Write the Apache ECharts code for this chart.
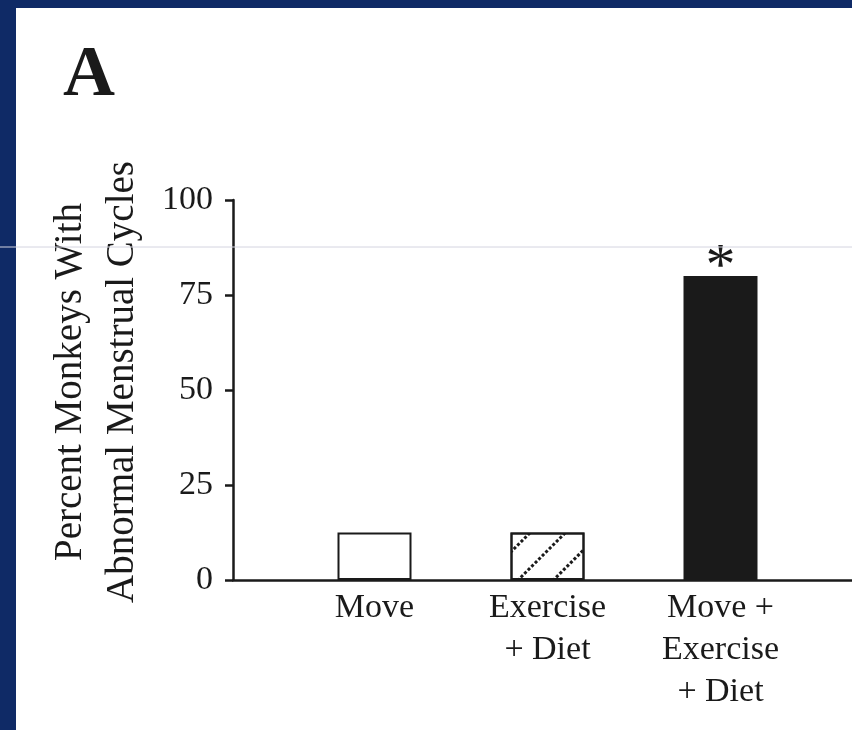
<!DOCTYPE html>
<html>
<head>
<meta charset="utf-8">
<script src="https://cdn.jsdelivr.net/npm/echarts@6/dist/echarts.min.js"></script>
<style>
html,body{margin:0;padding:0;background:#0f2a66;}
#chart{width:852px;height:730px;}
</style>
</head>
<body>
<div id="chart"></div>
<script>
const categories = ['Move', 'Exercise\n+ Diet', 'Move +\nExercise\n+ Diet'];
const values = [12.5, 12.5, 80];
const significance = ['', '', '*'];
const yTicks = [0, 25, 50, 75, 100];
const yTitle = 'Percent Monkeys With\nAbnormal Menstrual Cycles';
const panelLabel = 'A';

const ink = '#1a1a1a';
const serif = '"Liberation Serif", "DejaVu Serif", serif';

const fills = ['#ffffff', '#ffffff', ink];
const hatch = {
  symbol: 'rect', symbolSize: 1,
  dashArrayX: [3, 1.5], dashArrayY: [3, 22],
  rotation: -Math.PI / 4, color: ink
};

const chart = echarts.init(document.getElementById('chart'), null, {renderer: 'canvas'});
chart.setOption({
  backgroundColor: '#0f2a66',
  animation: false,
  graphic: [
    {type: 'rect', left: 16, top: 8, z: -100, shape: {width: 836, height: 722}, style: {fill: '#ffffff'}, silent: true},
    {type: 'line', z: 100, shape: {x1: 0, y1: 247, x2: 852, y2: 247}, style: {stroke: '#d4d4e0', lineWidth: 1}, silent: true},
    {type: 'text', left: 63, top: 40, z: 100, style: {text: panelLabel, font: 'bold 72px ' + serif, fill: ink}}
  ],
  grid: [
    {left: 288, right: 45, top: 200, bottom: 150, containLabel: false},
    {left: 233, right: 0, top: 200, bottom: 150, containLabel: false}
  ],
  xAxis: [
    {
      type: 'category', gridIndex: 0, data: categories,
      axisLine: {show: false}, axisTick: {show: false},
      axisLabel: {color: ink, fontFamily: serif, fontSize: 34, lineHeight: 42, margin: 7, interval: 0}
    },
    {
      type: 'value', gridIndex: 1, min: 0, max: 1,
      axisLine: {show: true, onZero: false, lineStyle: {color: ink, width: 2.5}},
      axisTick: {show: false}, axisLabel: {show: false}, splitLine: {show: false}
    }
  ],
  yAxis: [
    {
      type: 'value', gridIndex: 0, min: 0, max: 100, interval: 25, offset: 55,
      axisLine: {show: true, lineStyle: {color: ink, width: 2.5}},
      axisTick: {show: true, inside: false, length: 8, lineStyle: {color: ink, width: 2.5}},
      axisLabel: {color: ink, fontFamily: serif, fontSize: 34, margin: 20,
        formatter: v => yTicks.includes(v) ? String(v) : ''},
      splitLine: {show: false},
      name: yTitle, nameLocation: 'middle', nameRotate: 90, nameGap: 84,
      nameTextStyle: {color: ink, fontFamily: serif, fontSize: 39, lineHeight: 52, align: 'center', padding: [0, 0, 0, 16]}
    },
    {type: 'value', gridIndex: 1, min: 0, max: 100, show: false}
  ],
  series: [{
    type: 'bar', xAxisIndex: 0, yAxisIndex: 0, barWidth: 74,
    data: values.map((v, i) => ({
      value: v,
      itemStyle: Object.assign({color: fills[i], borderColor: ink, borderWidth: 2}, i === 1 ? {decal: hatch} : {}),
      label: {show: significance[i] !== '', formatter: significance[i], position: 'top', distance: -22,
        color: ink, fontFamily: serif, fontSize: 60}
    }))
  }]
});
</script>
</body>
</html>
